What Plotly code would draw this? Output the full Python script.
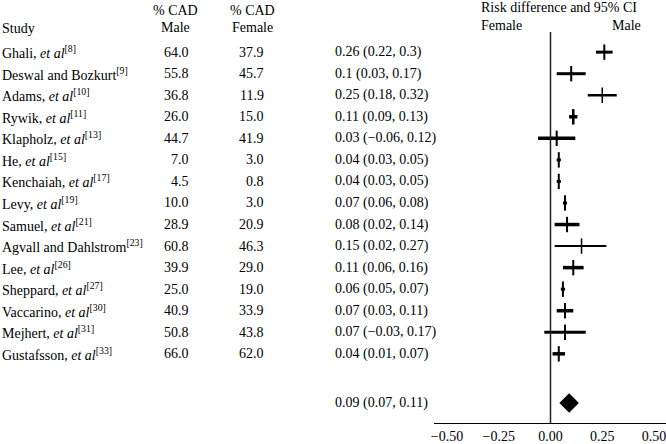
import plotly.graph_objects as go

# ---- data ----
authors = ["Ghali", "Deswal and Bozkurt", "Adams", "Rywik", "Klapholz", "He",
           "Kenchaiah", "Levy", "Samuel", "Agvall and Dahlstrom", "Lee",
           "Sheppard", "Vaccarino", "Mejhert", "Gustafsson"]
et_al = [True, False, True, True, True, True, True, True, True, False,
         True, True, True, True, True]
refs = [8, 9, 10, 11, 13, 15, 17, 19, 21, 23, 26, 27, 30, 31, 33]
male_pct = [64.0, 55.8, 36.8, 26.0, 44.7, 7.0, 4.5, 10.0, 28.9, 60.8, 39.9,
            25.0, 40.9, 50.8, 66.0]
female_pct = [37.9, 45.7, 11.9, 15.0, 41.9, 3.0, 0.8, 3.0, 20.9, 46.3, 29.0,
              19.0, 33.9, 43.8, 62.0]
rd = [0.26, 0.1, 0.25, 0.11, 0.03, 0.04, 0.04, 0.07, 0.08, 0.15, 0.11, 0.06,
      0.07, 0.07, 0.04]
ci_lo = [0.22, 0.03, 0.18, 0.09, -0.06, 0.03, 0.03, 0.06, 0.02, 0.02, 0.06,
         0.05, 0.03, -0.03, 0.01]
ci_hi = [0.3, 0.17, 0.32, 0.13, 0.12, 0.05, 0.05, 0.08, 0.14, 0.27, 0.16,
         0.07, 0.11, 0.17, 0.07]
pooled_rd = 0.09
pooled_lo = 0.07
pooled_hi = 0.11
x_ticks = [-0.5, -0.25, 0.0, 0.25, 0.5]

# ---- styles ----
ci_widths = [3, 3, 2.5, 3.5, 3.5, 3, 3, 3, 3.5, 2, 3.5, 3, 3.5, 3, 3.5]
tick_widths = [2, 2, 1.5, 2.5, 2, 2, 2, 2, 2, 1.5, 2, 2, 2, 2, 2]

W, H = 666, 444
FONT = "Liberation Serif, Times New Roman, serif"
FS = 14

def px(x):
    return x / W

def fmt(v):
    return str(v).replace("-", "\u2212")

rows = list(range(len(authors)))
pooled_row = 16.28

fig = go.Figure()

for i in rows:
    fig.add_trace(go.Scatter(
        x=[ci_lo[i], ci_hi[i]], y=[i, i], mode="lines",
        line=dict(color="black", width=ci_widths[i]),
        hoverinfo="skip", showlegend=False))
    fig.add_trace(go.Scatter(
        x=[rd[i]], y=[i], mode="markers",
        marker=dict(symbol="line-ns", size=11,
                    line=dict(color="black", width=tick_widths[i])),
        hoverinfo="skip", showlegend=False))

fig.add_trace(go.Scatter(
    x=[pooled_rd], y=[pooled_row], mode="markers",
    marker=dict(symbol="diamond", size=15, color="black"),
    hoverinfo="skip", showlegend=False))

ann = []
def add(text, x, y, xanchor, yref="y"):
    ann.append(dict(text=text, x=px(x), xref="paper", y=y, yref=yref,
                    xanchor=xanchor, yanchor="middle", showarrow=False,
                    font=dict(family=FONT, size=FS, color="black")))

for i in rows:
    name = authors[i] + (", <i>et al</i>" if et_al[i] else "")
    name += f"<sup>[{refs[i]}]</sup>"
    add(name, -3, i, "left")
    add(f"{male_pct[i]:.1f}", 189, i, "right")
    add(f"{female_pct[i]:.1f}", 264, i, "right")
    add(f"{fmt(rd[i])} ({fmt(ci_lo[i])}, {fmt(ci_hi[i])})", 331, i, "left")

add(f"{fmt(pooled_rd)} ({fmt(pooled_lo)}, {fmt(pooled_hi)})", 331, pooled_row, "left")

# headers
add("Study", -3, -1.12, "left")
add("% CAD", 173, -1.95, "center")
add("Male", 173, -1.16, "center")
add("% CAD", 251, -1.95, "center")
add("Female", 251, -1.16, "center")
add("Risk difference and 95% CI", 478, -2.05, "left")
add("Female", 478, -1.22, "left")
add("Male", 643, -1.22, "right")

fig.update_layout(
    width=W, height=H,
    margin=dict(l=0, r=0, t=0, b=21),
    paper_bgcolor="white", plot_bgcolor="white",
    annotations=ann,
    shapes=[dict(type="line", xref="x", yref="y", x0=0, x1=0,
                 y0=-0.93, y1=17.3, line=dict(color="#222", width=1.5))],
    xaxis=dict(domain=[px(433), 1.0], range=[-0.5625, 0.558],
               tickvals=x_ticks, tickformat=".2f",
               showgrid=False, zeroline=False, showline=True,
               linecolor="black", linewidth=1.4, ticks="",
               ticklabeloverflow="allow",
               tickfont=dict(family=FONT, size=FS, color="black"),
               fixedrange=True),
    yaxis=dict(range=[17.21, -2.42], visible=False, fixedrange=True),
    font=dict(family=FONT, size=FS, color="black"),
)

fig.write_html(
    "out.html",
    config={"displayModeBar": False},
    post_script="document.body.style.margin='0';document.body.style.overflow='hidden';",
)
